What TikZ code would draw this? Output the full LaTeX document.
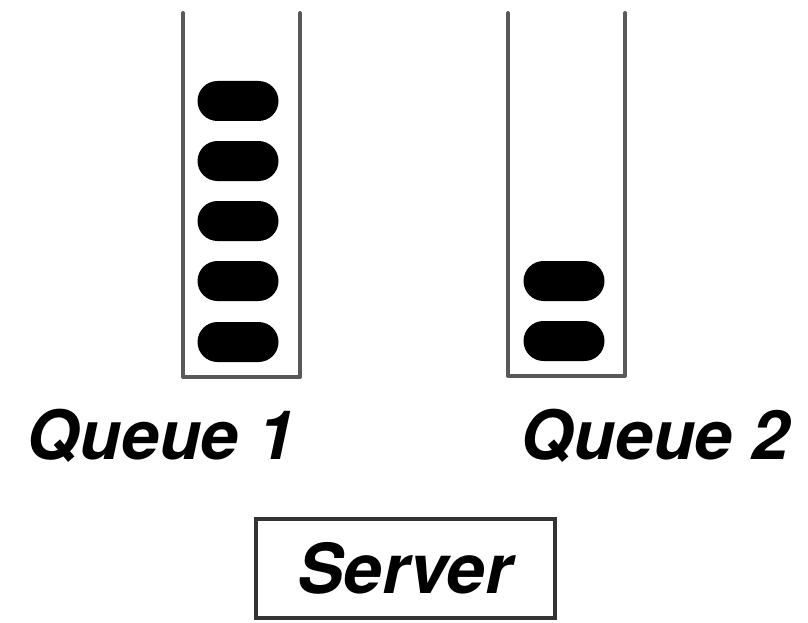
\documentclass[tikz,border=0pt]{standalone}
\usepackage{fontspec}
\setmainfont{TeX Gyre Heros}
\usetikzlibrary{shapes.misc}
\begin{document}
\begin{tikzpicture}[x=1pt,y=-1pt,
  wall/.style={draw=black!65,line width=4pt,line join=round,line cap=round},
  job/.style={rounded rectangle,fill=black,minimum width=81pt,minimum height=40pt,inner sep=0pt},
  label/.style={font=\fontsize{68}{72}\selectfont\bfseries\itshape,inner sep=0pt,anchor=base},
  serverbox/.style={draw=black!80,line width=4pt,minimum width=299pt,minimum height=99pt,
    font=\fontsize{69}{72}\selectfont\bfseries\itshape}]
  \useasboundingbox (0,0) rectangle (808,623);

  % queue 1: open-topped tube with five waiting jobs
  \draw[wall] (183,13) -- (183,377) -- (300,377) -- (300,13);
  \foreach \i/\y in {1/101,2/161,3/221,4/281,5/342}
    \node[job] (qa\i) at (238,\y) {};

  % queue 2: open-topped tube with two waiting jobs
  \draw[wall] (508,13) -- (508,376) -- (625,376) -- (625,13);
  \foreach \i/\y in {1/281,2/341}
    \node[job] (qb\i) at (564,\y) {};

  % captions
  \node[label] (cap1) at (161,459) {Queue 1};
  \node[label] (cap2) at (655,459) {Queue 2};

  % server
  \node[serverbox] (server) at (405,568) {Server};
\end{tikzpicture}
\end{document}
